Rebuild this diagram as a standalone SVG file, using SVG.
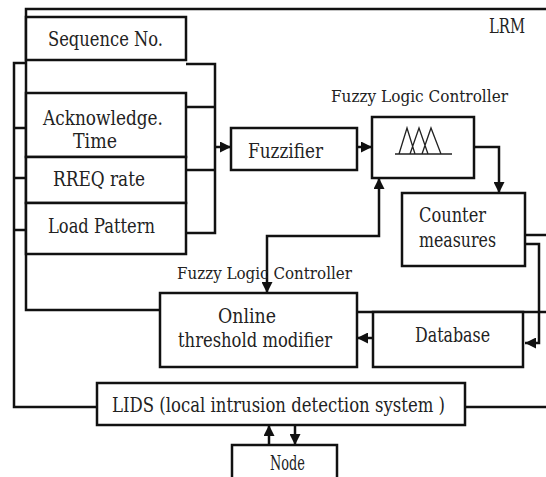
<svg xmlns="http://www.w3.org/2000/svg" width="546" height="477" viewBox="0 0 546 477">
<style>
.box{fill:#fff;stroke:#111;stroke-width:2.5}
.ln{fill:none;stroke:#111;stroke-width:2.5}
.t{font-family:'DejaVu Serif',serif;fill:#222;font-size:20px;text-anchor:middle}
.sm{font-size:17.5px}
.st{text-anchor:start}
</style>
<defs>
<marker id="ah" viewBox="0 0 10 10" refX="10" refY="5" markerWidth="4.4" markerHeight="4.4" orient="auto-start-reverse" markerUnits="strokeWidth">
<path d="M0,0 L10,5 L0,10 z" fill="#111"/>
</marker>
</defs>
<rect width="546" height="477" fill="#fff"/>
<g id="connectors">
<path class="ln" d="M546,9 H26 V310 H160"/>
<path class="ln" d="M26,63 H14 V407 H97"/>
<path class="ln" d="M14,128 H26 M14,178 H26 M14,230 H26"/>
<path class="ln" d="M186,64 H215 V233 H186 M186,107 H215 M186,170 H215"/>
<path class="ln" d="M215,147 H231" marker-end="url(#ah)"/>
<path class="ln" d="M357,147 H372" marker-end="url(#ah)"/>
<path class="ln" d="M474,147 H499 V193" marker-end="url(#ah)"/>
<path class="ln" d="M379,178 V236 H267 V293" marker-start="url(#ah)" marker-end="url(#ah)"/>
<path class="ln" d="M525,235 H546"/>
<path class="ln" d="M525,244 H539 V343 H525" marker-end="url(#ah)"/>
<path class="ln" d="M357,312 H546"/>
<path class="ln" d="M373,338 H357" marker-end="url(#ah)"/>
<path class="ln" d="M465,407 H546"/>
<path class="ln" d="M269,445 V425" marker-end="url(#ah)"/>
<path class="ln" d="M295,425 V445" marker-end="url(#ah)"/>
</g>
<text class="t" x="507" y="33" font-size="14.5" textLength="36" lengthAdjust="spacingAndGlyphs">LRM</text>
<g id="seq"><rect class="box" x="26" y="17" width="160" height="43"/><text class="t" x="105.5" y="46" textLength="115" lengthAdjust="spacingAndGlyphs">Sequence No.</text></g>
<g id="ack"><rect class="box" x="26" y="93" width="160" height="64"/><text class="t" x="103" y="125" textLength="120" lengthAdjust="spacingAndGlyphs">Acknowledge.</text><text class="t" x="95" y="148" textLength="44" lengthAdjust="spacingAndGlyphs">Time</text></g>
<g id="rreq"><rect class="box" x="26" y="157" width="160" height="46"/><text class="t" x="99" y="186" textLength="92" lengthAdjust="spacingAndGlyphs">RREQ rate</text></g>
<g id="load"><rect class="box" x="26" y="203" width="160" height="51"/><text class="t" x="101.5" y="233" textLength="107" lengthAdjust="spacingAndGlyphs">Load Pattern</text></g>
<g id="fuzzifier"><rect class="box" x="231" y="128" width="126" height="42"/><text class="t" x="285.5" y="158" textLength="75" lengthAdjust="spacingAndGlyphs">Fuzzifier</text></g>
<g id="flc"><text class="t sm" x="419.5" y="102" textLength="177" lengthAdjust="spacingAndGlyphs">Fuzzy Logic Controller</text><rect class="box" x="372" y="117" width="102" height="61"/>
<path d="M395,154 H452 M399,154 L407,128 L415,154 M410,154 L419,128 L428,154 M422,154 L431,128 L441,154" fill="none" stroke="#222" stroke-width="1.3"/></g>
<g id="counter"><rect class="box" x="402" y="193" width="123" height="73"/><text class="t st" x="419" y="222" textLength="67" lengthAdjust="spacingAndGlyphs">Counter</text><text class="t st" x="419" y="247" textLength="77" lengthAdjust="spacingAndGlyphs">measures</text></g>
<g id="online"><text class="t sm" x="264.5" y="279" textLength="175" lengthAdjust="spacingAndGlyphs">Fuzzy Logic Controller</text><rect class="box" x="160" y="293" width="197" height="74"/><text class="t" x="247" y="323" textLength="58" lengthAdjust="spacingAndGlyphs">Online</text><text class="t" x="255" y="347" textLength="154" lengthAdjust="spacingAndGlyphs">threshold modifier</text></g>
<g id="database"><rect class="box" x="373" y="312" width="150" height="55"/><text class="t" x="452.5" y="342" textLength="75" lengthAdjust="spacingAndGlyphs">Database</text></g>
<g id="lids"><rect class="box" x="97" y="383" width="368" height="42"/><text class="t" x="278.5" y="412" textLength="333" lengthAdjust="spacingAndGlyphs">LIDS (local intrusion detection system )</text></g>
<g id="node"><rect class="box" x="232" y="445" width="105" height="40"/><text class="t" x="287.5" y="470" font-size="13" textLength="35" lengthAdjust="spacingAndGlyphs">Node</text></g>
</svg>
